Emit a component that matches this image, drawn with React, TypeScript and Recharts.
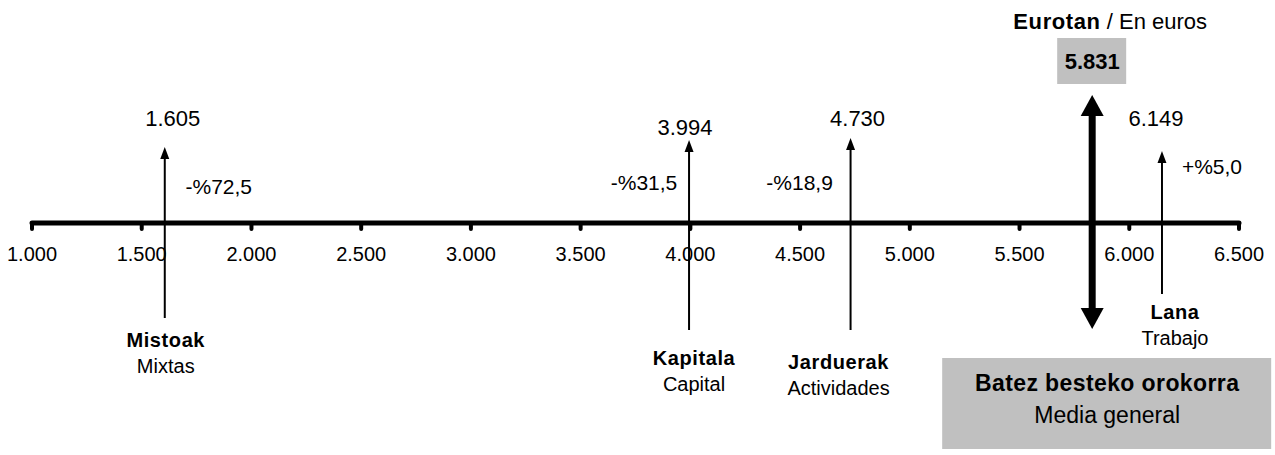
import React from 'react';
import { ComposedChart, Scatter, XAxis, YAxis } from 'recharts';

// ---------- data ----------
const axisTicks = [1000, 1500, 2000, 2500, 3000, 3500, 4000, 4500, 5000, 5500, 6000, 6500];
const categoriesEu = ['Mistoak', 'Kapitala', 'Jarduerak', 'Lana'];
const categoriesEs = ['Mixtas', 'Capital', 'Actividades', 'Trabajo'];
const incomeValues = [1605, 3994, 4730, 6149];
const changeLabels = ['-%72,5', '-%31,5', '-%18,9', '+%5,0'];
const meanValue = 5831;
const meanLabelEu = 'Batez besteko orokorra';
const meanLabelEs = 'Media general';
const unitEu = 'Eurotan';
const unitEs = 'En euros';

// ---------- layout (pixel offsets relative to the arrow foot on the axis) ----------
const arrowLayout = [
  { top: 76, bottom: 95, valDx: 8, valDy: -105, pctDx: 54, pctDy: -37, nameDx: 1, nameDy: 117 },
  { top: 83, bottom: 107, valDx: -4, valDy: -96, pctDx: -45, pctDy: -41, nameDx: 5, nameDy: 135 },
  { top: 85, bottom: 107, valDx: 7, valDy: -105, pctDx: -51, pctDy: -41, nameDx: -12, nameDy: 139 },
  { top: 72, bottom: 71, valDx: -6, valDy: -105, pctDx: 50, pctDy: -57, nameDx: 13, nameDy: 89 },
];

const FONT = '"Liberation Sans", Arial, sans-serif';

const fmt = (v: number) => String(v).replace(/\B(?=(\d{3})+(?!\d))/g, '.');

const categoryData = incomeValues.map((v, i) => ({ x: v, y: 0, i }));
const meanData = [{ x: meanValue, y: 0 }];

const CategoryArrow = (props: any) => {
  const { cx, cy, payload } = props;
  if (cx == null || cy == null) return null;
  const L = arrowLayout[payload.i];
  const head = 12;
  const hw = 4.5;
  const tipY = cy - L.top;
  return (
    <g>
      <line x1={cx} y1={cy + L.bottom} x2={cx} y2={tipY + head - 1} stroke="#000" strokeWidth={2} />
      <polygon points={`${cx},${tipY} ${cx - hw},${tipY + head} ${cx + hw},${tipY + head}`} fill="#000" />
      <text x={cx + L.valDx} y={cy + L.valDy} textAnchor="middle" dominantBaseline="central"
        fontFamily={FONT} fontSize={22} fill="#000">{fmt(payload.x)}</text>
      <text x={cx + L.pctDx} y={cy + L.pctDy} textAnchor="middle" dominantBaseline="central"
        fontFamily={FONT} fontSize={21} fill="#000">{changeLabels[payload.i]}</text>
      <text x={cx + L.nameDx} y={cy + L.nameDy} textAnchor="middle" dominantBaseline="central"
        fontFamily={FONT} fontSize={20} fontWeight="bold" letterSpacing={0.6} fill="#000">{categoriesEu[payload.i]}</text>
      <text x={cx + L.nameDx} y={cy + L.nameDy + 26} textAnchor="middle" dominantBaseline="central"
        fontFamily={FONT} fontSize={20} fill="#000">{categoriesEs[payload.i]}</text>
    </g>
  );
};

const MeanArrow = (props: any) => {
  const { cx, cy, payload } = props;
  if (cx == null || cy == null) return null;
  const topTip = cy - 128;
  const botTip = cy + 106;
  const head = 21;
  const hw = 11.5;
  return (
    <g>
      <rect x={cx - 3.5} y={topTip + head - 1} width={7} height={botTip - topTip - 2 * head + 2} fill="#000" />
      <polygon points={`${cx},${topTip} ${cx - hw},${topTip + head} ${cx + hw},${topTip + head}`} fill="#000" />
      <polygon points={`${cx},${botTip} ${cx - hw},${botTip - head} ${cx + hw},${botTip - head}`} fill="#000" />
      <text x={cx + 18} y={cy - 202} textAnchor="middle" dominantBaseline="central" fontFamily={FONT} fontSize={22} fill="#000">
        <tspan fontWeight="bold" letterSpacing={0.6}>{unitEu}</tspan>
        <tspan>{' / ' + unitEs}</tspan>
      </text>
      <rect x={cx - 35} y={cy - 185} width={69} height={46} fill="#c0c0c0" />
      <text x={cx} y={cy - 162} textAnchor="middle" dominantBaseline="central" fontFamily={FONT} fontSize={22}
        fontWeight="bold" fill="#000">{fmt(payload.x)}</text>
      <rect x={cx - 150} y={cy + 135} width={329} height={91} fill="#c0c0c0" />
      <text x={cx + 15} y={cy + 160} textAnchor="middle" dominantBaseline="central" fontFamily={FONT} fontSize={23}
        fontWeight="bold" letterSpacing={0.4} fill="#000">{meanLabelEu}</text>
      <text x={cx + 15} y={cy + 192} textAnchor="middle" dominantBaseline="central" fontFamily={FONT} fontSize={23}
        fill="#000">{meanLabelEs}</text>
    </g>
  );
};

export default function App() {
  return (
    <div style={{ position: 'absolute', left: 0, top: 0, width: 1275, height: 455, background: '#fff' }}>
      <ComposedChart width={1275} height={455} margin={{ top: 0, right: 36, bottom: 192, left: 32 }}>
        <XAxis
          type="number"
          dataKey="x"
          domain={[1000, 6500]}
          ticks={axisTicks}
          interval={0}
          tickFormatter={fmt}
          height={40}
          axisLine={{ stroke: '#000', strokeWidth: 5, strokeLinecap: 'round' }}
          tickLine={{ stroke: '#000', strokeWidth: 4, strokeLinecap: 'round' }}
          tickSize={6}
          tickMargin={18}
          tick={{ fill: '#000', fontSize: 20, fontFamily: FONT }}
        />
        <YAxis type="number" dataKey="y" domain={[0, 1]} hide />
        <Scatter data={categoryData} dataKey="y" shape={CategoryArrow} isAnimationActive={false} />
        <Scatter data={meanData} dataKey="y" shape={MeanArrow} isAnimationActive={false} />
      </ComposedChart>
    </div>
  );
}
